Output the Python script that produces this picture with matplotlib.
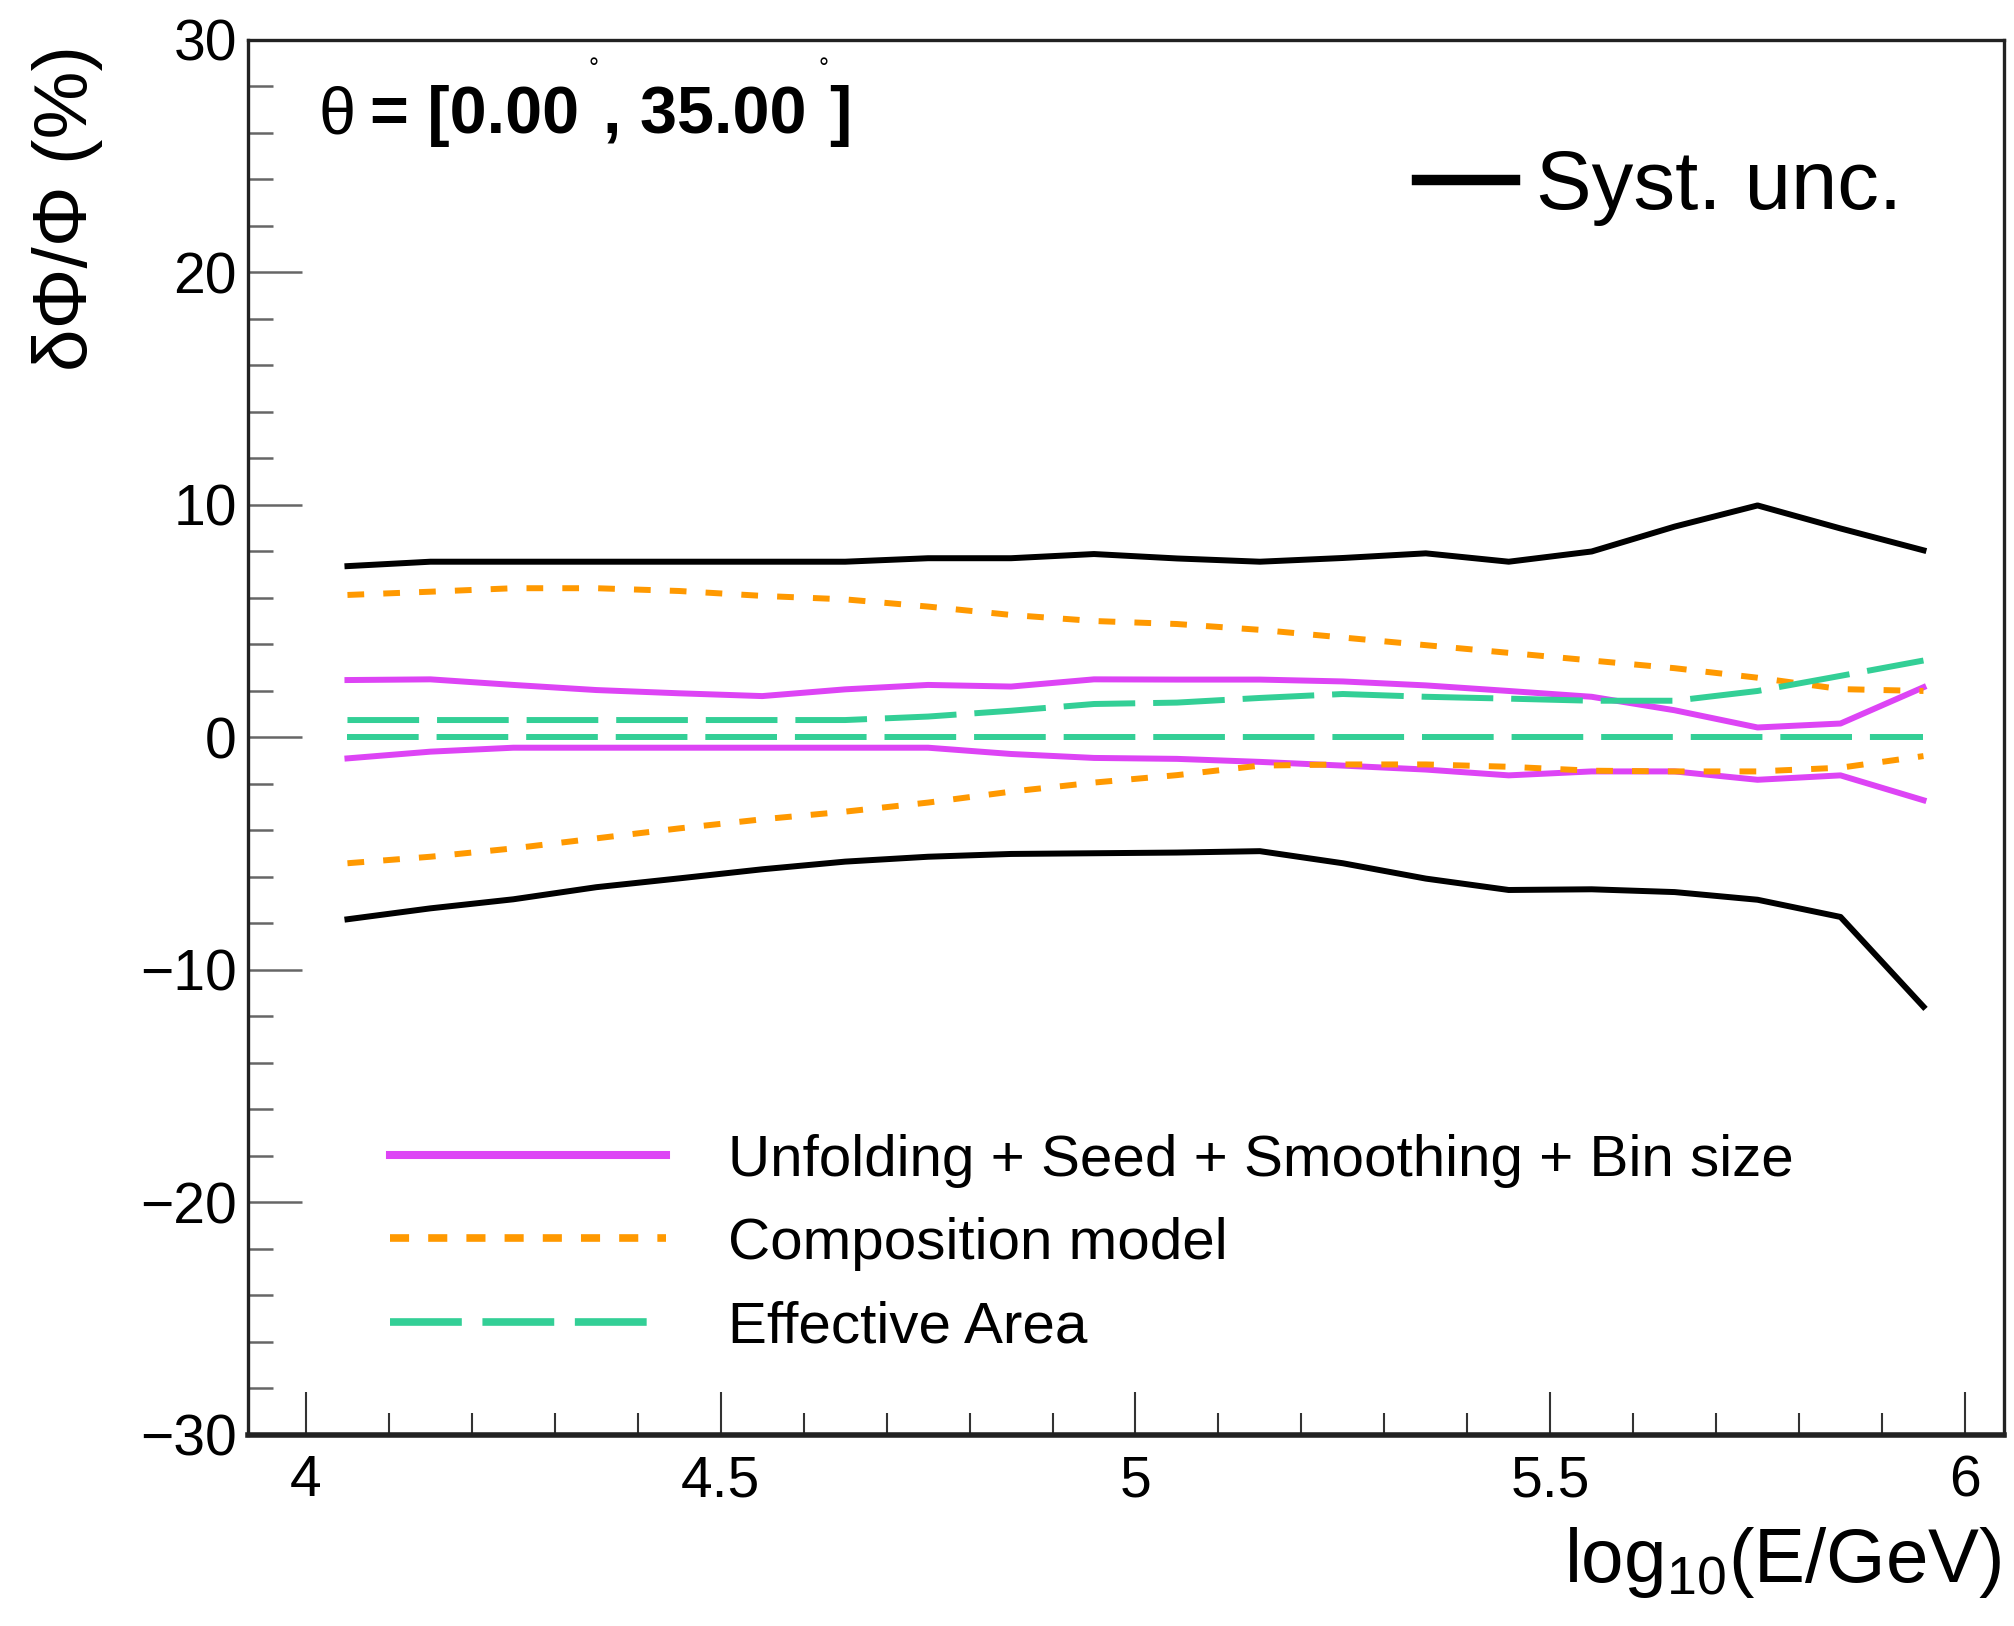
import numpy as np
import matplotlib
matplotlib.use("Agg")
import matplotlib.pyplot as plt
from matplotlib.ticker import MultipleLocator
from matplotlib.lines import Line2D

plt.rcParams['font.family'] = ['Liberation Sans', 'DejaVu Sans']
plt.rcParams['mathtext.fontset'] = 'custom'
plt.rcParams['mathtext.rm'] = 'Liberation Sans'
plt.rcParams['mathtext.it'] = 'Liberation Sans:italic'
plt.rcParams['mathtext.bf'] = 'Liberation Sans:bold'

# bin centres in log10(E/GeV)
log_e = [4.05, 4.15, 4.25, 4.35, 4.45, 4.55, 4.65, 4.75, 4.85, 4.95,
         5.05, 5.15, 5.25, 5.35, 5.45, 5.55, 5.65, 5.75, 5.85, 5.95]

# relative uncertainties (%)
syst_up = [7.37, 7.56, 7.56, 7.56, 7.56, 7.56, 7.56, 7.71, 7.71, 7.89,
           7.70, 7.56, 7.72, 7.92, 7.56, 8.00, 9.07, 9.98, 8.99, 8.05]
syst_down = [-7.82, -7.35, -6.96, -6.44, -6.06, -5.67, -5.34, -5.13, -5.01, -4.98,
             -4.95, -4.89, -5.41, -6.07, -6.56, -6.53, -6.65, -6.98, -7.72, -11.58]
unf_up = [2.47, 2.50, 2.26, 2.04, 1.90, 1.78, 2.07, 2.26, 2.19, 2.50,
          2.49, 2.49, 2.41, 2.24, 2.00, 1.75, 1.17, 0.43, 0.60, 2.16]
unf_down = [-0.90, -0.61, -0.44, -0.44, -0.44, -0.44, -0.44, -0.44, -0.71, -0.88,
            -0.92, -1.05, -1.21, -1.38, -1.63, -1.46, -1.46, -1.82, -1.63, -2.70]
comp_up = [6.13, 6.27, 6.42, 6.42, 6.30, 6.09, 5.94, 5.63, 5.27, 5.01,
           4.88, 4.63, 4.30, 3.97, 3.64, 3.31, 2.98, 2.57, 2.08, 2.00]
comp_down = [-5.41, -5.13, -4.77, -4.34, -3.91, -3.52, -3.19, -2.80, -2.33, -1.94,
             -1.62, -1.21, -1.16, -1.16, -1.26, -1.43, -1.46, -1.46, -1.30, -0.80]
eff_up = [0.75, 0.75, 0.75, 0.75, 0.75, 0.75, 0.75, 0.90, 1.15, 1.44,
          1.50, 1.70, 1.87, 1.75, 1.67, 1.58, 1.58, 2.00, 2.65, 3.31]
eff_down = [0.0] * 20

purple = '#dd44f5'
orange = '#ff9900'
green = '#33cf96'
dots = (0, (2.8, 3.2))
dashes = (0, (12, 3))
lw = 4.3

fig = plt.figure(figsize=(20.14, 16.26), dpi=100)
ax = fig.add_axes([0.1231, 0.1175, 0.8719, 0.8579])

ax.plot(log_e, syst_up, color='black', lw=lw)
ax.plot(log_e, syst_down, color='black', lw=lw)
ax.plot(log_e, unf_up, color=purple, lw=lw)
ax.plot(log_e, unf_down, color=purple, lw=lw)
ax.plot(log_e, comp_up, color=orange, lw=lw, ls=dots)
ax.plot(log_e, comp_down, color=orange, lw=lw, ls=dots)
ax.plot(log_e, eff_up, color=green, lw=lw, ls=dashes)
ax.plot(log_e, eff_down, color=green, lw=lw, ls=dashes)

ax.set_xlim(3.93, 6.047)
ax.set_ylim(-30, 30)
ax.xaxis.set_major_locator(MultipleLocator(0.5))
ax.xaxis.set_minor_locator(MultipleLocator(0.1))
ax.yaxis.set_major_locator(MultipleLocator(10))
ax.yaxis.set_minor_locator(MultipleLocator(2))
ax.set_xticks([4, 4.5, 5, 5.5, 6], ['4', '4.5', '5', '5.5', '6'])

ax.tick_params(axis='x', which='major', direction='in', length=31, width=1.5,
               color='#333333', labelsize=41, pad=14, top=False)
ax.tick_params(axis='x', which='minor', direction='in', length=16, width=1.5,
               color='#333333', top=False)
ax.tick_params(axis='y', which='major', direction='in', length=39, width=1.8,
               color='#666666', labelsize=41, pad=8, right=False)
ax.tick_params(axis='y', which='minor', direction='in', length=18, width=1.8,
               color='#666666', right=False)
for s in ax.spines.values():
    s.set_linewidth(2.4)
    s.set_color('#222222')
ax.spines['bottom'].set_linewidth(4)

fig.text(0.9935, 0.027, r'log$_{10}$(E/GeV)', fontsize=55, ha='right', va='baseline')
fig.text(0.0333, 0.9723, 'δΦ/Φ (%)', fontsize=55, rotation=90, ha='center', va='top')

# zenith range label, pieced together like the ROOT latex
base = 1 - 133 / 1626
deg = 1 - 76 / 1626
fig.text(319 / 2014, base, 'θ', fontsize=48, va='baseline')
fig.text(370 / 2014, base, '= [0.00', fontsize=48, fontweight='bold', va='baseline')
fig.text(589 / 2014, deg, '°', fontsize=18, va='baseline')
fig.text(603 / 2014, base, ', 35.00', fontsize=48, fontweight='bold', va='baseline')
fig.text(818 / 2014, deg, '°', fontsize=18, va='baseline')
fig.text(829 / 2014, base, ']', fontsize=48, fontweight='bold', va='baseline')

h_syst = [Line2D([], [], color='black', lw=7.5)]
leg1 = ax.legend(h_syst, ['Syst. unc.'], loc='center left', bbox_to_anchor=(0.666, 0.8946),
                 frameon=False, fontsize=60, handlelength=1.17, handletextpad=0.25,
                 borderpad=0, borderaxespad=0)
ax.add_artist(leg1)

h_comp = [Line2D([], [], color=purple, lw=5.8),
          Line2D([], [], color=orange, lw=5.5, ls=(0, (2.5, 2.5))),
          Line2D([], [], color=green, lw=5.5, ls=(0, (9.4, 2.7)))]
ax.legend(h_comp, ['Unfolding + Seed + Smoothing + Bin size', 'Composition model', 'Effective Area'],
          loc='center left', bbox_to_anchor=(0.0809, 0.1370), frameon=False, fontsize=42,
          handlelength=4.73, handletextpad=1.06, labelspacing=0.5, borderpad=0, borderaxespad=0)

fig.savefig('out.png', dpi=100)
